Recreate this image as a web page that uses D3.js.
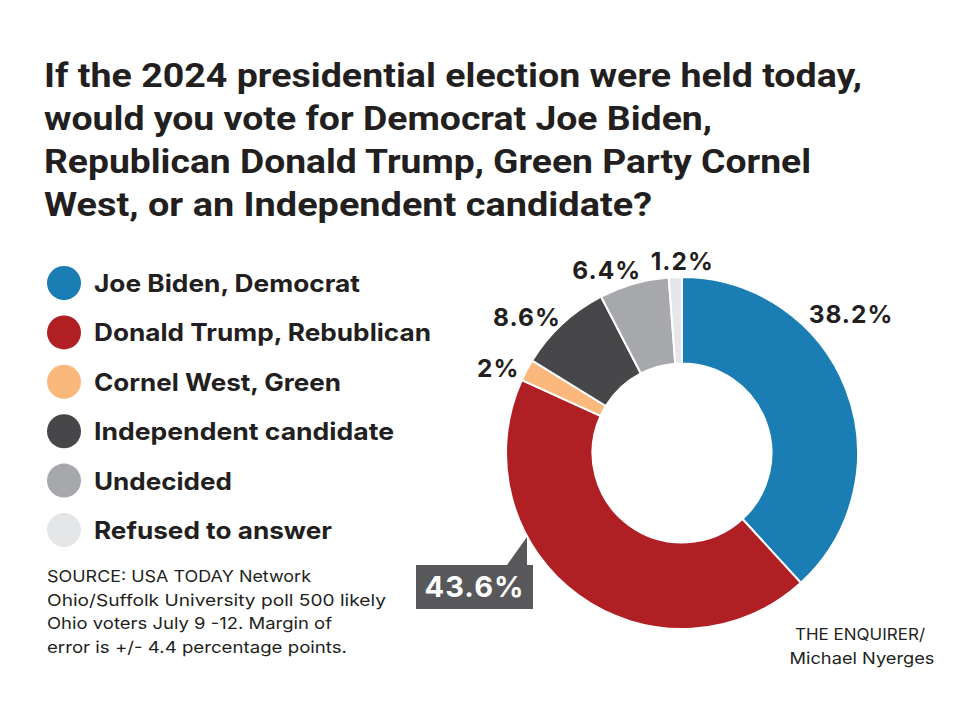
<!DOCTYPE html>
<html><head><meta charset="utf-8">
<script src="https://cdn.jsdelivr.net/npm/d3@7"></script>
<style>body{margin:0;background:#fff}</style>
</head><body>
<svg id="c" width="960" height="720"></svg>
<script>
const categories = ["Joe Biden, Democrat","Donald Trump, Rebublican","Cornel West, Green","Independent candidate","Undecided","Refused to answer"];
const values = [38.2, 43.6, 2, 8.6, 6.4, 1.2];
const valueLabels = ["38.2%","43.6%","2%","8.6%","6.4%","1.2%"];
const colors = ["#1a7db4","#b01f24","#fbb87c","#47474a","#a7a8ac","#e5e6e8"];
const titleLines = ["If the 2024 presidential election were held today,","would you vote for Democrat Joe Biden,","Republican Donald Trump, Green Party Cornel","West, or an Independent candidate?"];
const sourceLines = ["SOURCE: USA TODAY Network","Ohio/Suffolk University poll 500 likely","Ohio voters July 9 -12. Margin of","error is +/- 4.4 percentage points."];
const creditLines = ["THE ENQUIRER/","Michael Nyerges"];

const svg = d3.select("#c");
const ink = "#231f20";

// Title
const titleW = [818, 668, 767, 608];
svg.append("g").selectAll("text").data(titleLines).join("text")
  .attr("x", 44).attr("y", (d,i)=>87 + i*43)
  .attr("font-family","Roboto").attr("font-weight",700).attr("font-size",34)
  .attr("fill",ink)
  .attr("textLength",(d,i)=>titleW[i]).attr("lengthAdjust","spacingAndGlyphs")
  .text(d=>d);

// Legend
const legY = d3.scalePoint().domain(categories).range([283,530]);
const leg = svg.append("g").selectAll("g").data(categories).join("g")
  .attr("transform",d=>`translate(0,${legY(d)})`);
leg.append("circle").attr("cx",64).attr("cy",0).attr("r",17).attr("fill",(d,i)=>colors[i]);
const legW = [266, 337, 247, 300, 138, 238];
leg.append("text").attr("x",94).attr("y",9)
  .attr("font-family","Inter").attr("font-weight",700).attr("font-size",24)
  .attr("fill",ink)
  .attr("textLength",(d,i)=>legW[i]).attr("lengthAdjust","spacingAndGlyphs")
  .text(d=>d);

// Source
const srcW = [264, 339, 285, 300];
svg.append("g").selectAll("text").data(sourceLines).join("text")
  .attr("x",47).attr("y",(d,i)=>582 + i*23.5)
  .attr("font-family","Inter").attr("font-size",16.5)
  .attr("textLength",(d,i)=>srcW[i]).attr("lengthAdjust","spacingAndGlyphs")
  .attr("fill",ink).text(d=>d);

// Credit
const credW = [130, 145];
svg.append("g").selectAll("text").data(creditLines).join("text")
  .attr("x",(d,i)=>862 - credW[i]/2 + (i===0?-2:0)).attr("y",(d,i)=>640 + i*24)
  .attr("font-family","Inter").attr("font-size",16.5)
  .attr("textLength",(d,i)=>credW[i]).attr("lengthAdjust","spacingAndGlyphs")
  .attr("fill",ink).text(d=>d);

// Donut
const cx = 682, cy = 453, R = 176, r = 89.5;
const pie = d3.pie().sort(null).value(d=>d);
const arcs = pie(values);
const arc = d3.arc().innerRadius(r).outerRadius(R);
const g = svg.append("g").attr("transform",`translate(${cx},${cy})`);
g.selectAll("path").data(arcs).join("path")
  .attr("d",arc).attr("fill",(d,i)=>colors[i])
  .attr("stroke","#fff").attr("stroke-width",2);

// Labels (outside)
const labelArc = d3.arc().innerRadius(R+30).outerRadius(R+30);
const offsets = [[-23,-64],[0,0],[-2,12],[-15,15],[-19,15],[8,14]];
arcs.forEach((a,i)=>{
  if(i===1) return;
  const [x,y] = labelArc.centroid(a);
  g.append("text").attr("x",x+offsets[i][0]).attr("y",y+offsets[i][1]+9)
    .attr("text-anchor","middle")
    .attr("font-family","Inter").attr("font-weight",700).attr("font-size",24.5)
    .attr("letter-spacing",1)
    .attr("fill",ink).text(valueLabels[i]);
});

// Trump callout box
const bx = 416 - cx, by = 565 - cy, bw = 117, bh = 44;
const tip = [527 - cx, 537 - cy];
g.append("path")
  .attr("d",`M${bx+bw-26},${by} L${tip[0]},${tip[1]} L${bx+bw-6},${by} Z`)
  .attr("fill","#58585b");
g.append("rect").attr("x",bx).attr("y",by).attr("width",bw).attr("height",bh).attr("fill","#58585b");
g.append("text").attr("x",bx+bw/2).attr("y",by+bh/2+10).attr("text-anchor","middle")
  .attr("font-family","Inter").attr("font-weight",700).attr("font-size",29)
  .attr("letter-spacing",1)
  .attr("fill","#fff").text(valueLabels[1]);
</script>
</body></html>
